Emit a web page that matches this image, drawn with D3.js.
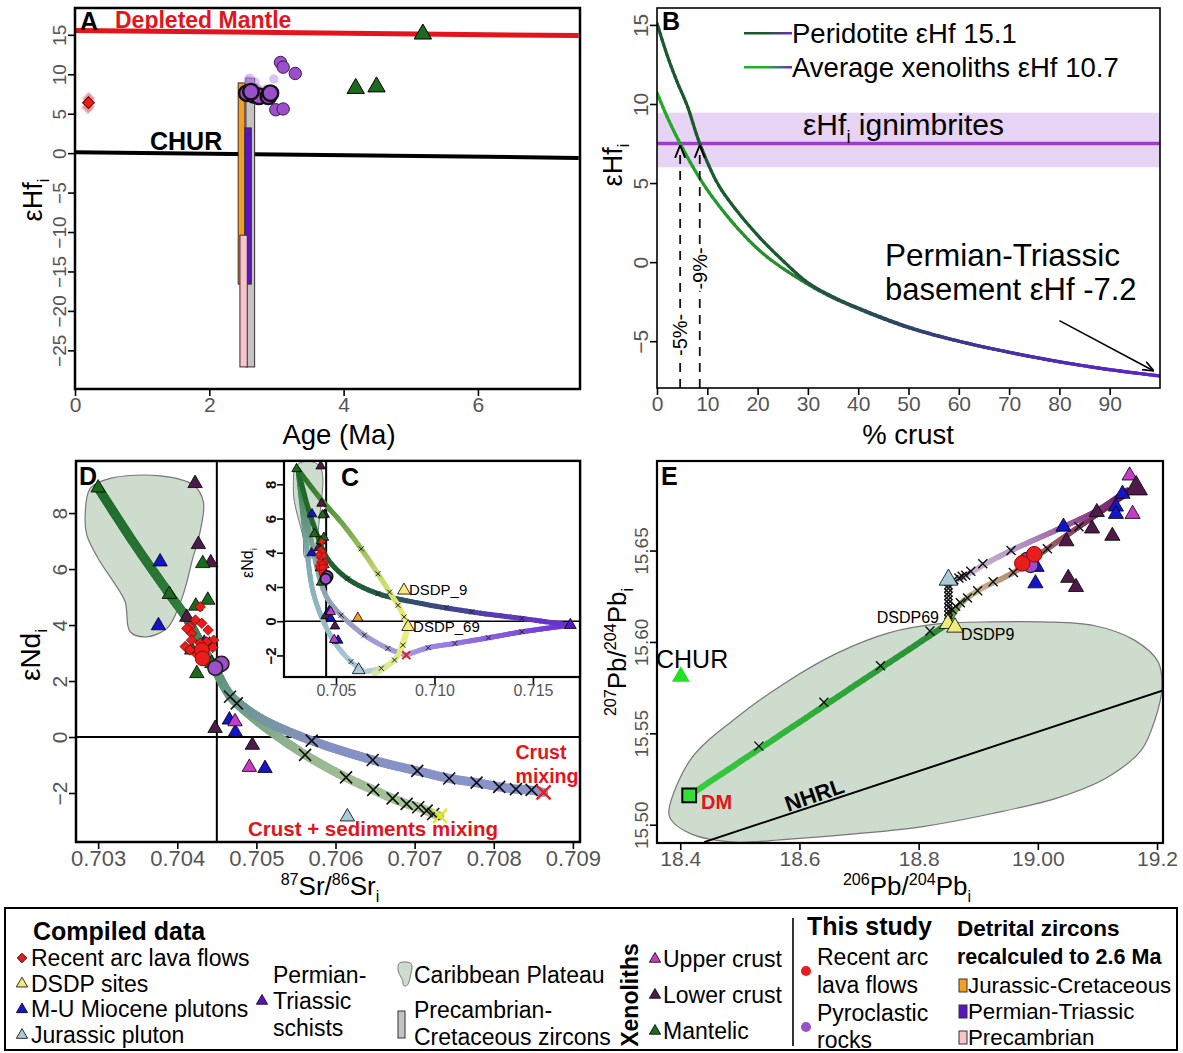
<!DOCTYPE html>
<html>
<head>
<meta charset="utf-8">
<script src="https://cdn.jsdelivr.net/npm/d3@7"></script>
<style>
body { margin: 0; background: #fff; }
text { font-family: "Liberation Sans", Arial, sans-serif; }
</style>
</head>
<body>
<script>
// ---------- Panel A data (age vs eHf) ----------
const ageTicks = [0, 2, 4, 6];
const hfTicksA = [-25, -20, -15, -10, -5, 0, 5, 10, 15];
const depletedMantle = [[0, 15.55], [7.5, 14.9]];
const churA = [[0, 0.1], [7.5, -0.6]];
const barGroups = ["Precambrian-Cretaceous", "Jurassic-Cretaceous", "Permian-Triassic", "Precambrian"];
const barAge0 = [2.545, 2.43, 2.53, 2.456];
const barAge1 = [2.675, 2.53, 2.625, 2.565];
const barHfMin = [-27.1, -16.6, -16.6, -27.1];
const barHfMax = [9.5, 8.9, 3.2, -10.4];
const lavaA = [[0.2, 6.4]];
const lavaAFaint = [[0.2, 7.0], [0.19, 5.7], [0.21, 6.8], [0.2, 5.9]];
const pyroAFaint = [[2.58, 9.2], [2.62, 8.8], [2.7, 8.3], [2.75, 8.0], [2.64, 6.8], [2.7, 6.7],
  [2.8, 7.0], [2.96, 9.4], [2.6, 9.5], [2.68, 9.0], [2.72, 6.9], [2.85, 8.1]];
const pyroA = [[2.56, 7.6], [2.66, 7.4], [2.74, 7.2], [2.88, 7.2], [2.91, 7.6], [2.62, 7.8],
  [3.06, 11.5], [3.1, 10.9], [3.28, 10.1], [2.99, 5.5], [3.1, 5.6]];
const mantelicA = [[5.18, 15.1], [4.18, 8.2], [4.49, 8.4]];

// ---------- Panel B data (% crust vs eHf) ----------
const crustTicks = [0, 10, 20, 30, 40, 50, 60, 70, 80, 90];
const hfTicksB = [-5, 0, 5, 10, 15];
const peridotite = [[0, 15.1], [2, 13.1], [4, 11.4], [6, 9.9], [8.5, 7.5], [12, 5.0], [15, 3.6], [20, 1.7],
  [25, 0.1], [30, -1.3], [35, -2.2], [40, -2.9], [50, -4.1], [60, -5.0], [70, -5.7], [80, -6.3], [90, -6.8], [100, -7.2]];
const xenolith = [[0, 10.7], [2, 9.2], [4.6, 7.5], [8.5, 5.3], [12, 3.7], [17, 1.8], [22, 0.3], [30, -1.4],
  [35, -2.25], [40, -2.95], [50, -4.15], [60, -5.0], [70, -5.7], [80, -6.3], [90, -6.8], [100, -7.2]];
const ignHf = 7.5, ignHfMin = 6.0, ignHfMax = 9.45;
const crustNeeded = [4.6, 8.5];
const crustNeededLabels = ["-5%-", "-9%-"];
const crustLabelHf = [-4.6, -0.4];
const basementArrow = [[80, -3.7], [98.6, -6.85]];

// ---------- Panel D data (Sr vs Nd) ----------
const srTicksD = [0.703, 0.704, 0.705, 0.706, 0.707, 0.708, 0.709];
const ndTicksD = [-2, 0, 2, 4, 6, 8];
const srRef = 0.7045, ndRef = 0;
const caribbeanSrNd = [[0.702836, 7.93], [0.702899, 8.88], [0.703152, 9.24], [0.703783, 9.33], [0.704204, 9.0],
  [0.70433, 8.4], [0.704288, 7.33], [0.704184, 6.26], [0.704099, 5.31], [0.703994, 4.48], [0.703868, 3.88],
  [0.703615, 3.58], [0.703404, 3.76], [0.703341, 4.83], [0.703193, 5.55], [0.703025, 6.26], [0.702857, 7.21]];
const crustCurve = [[0.703, 8.9], [0.70344, 6.98], [0.70391, 5.07], [0.70412, 4.24], [0.70433, 3.17], [0.7045, 2.3],
  [0.70467, 1.5], [0.7049, 0.95], [0.70513, 0.55], [0.7057, -0.13], [0.70647, -0.82], [0.70703, -1.21],
  [0.70744, -1.48], [0.70778, -1.63], [0.70807, -1.78], [0.70828, -1.86], [0.70848, -1.9], [0.70863, -1.98]];
const sedCurve = [[0.703, 8.9], [0.70344, 6.98], [0.70391, 5.07], [0.70412, 4.24], [0.70433, 3.17], [0.7045, 2.3],
  [0.70467, 1.45], [0.70485, 0.95], [0.70513, 0.31], [0.70562, -0.64], [0.70613, -1.44], [0.70648, -1.89],
  [0.70672, -2.19], [0.7069, -2.39], [0.70705, -2.51], [0.70715, -2.63], [0.70724, -2.75], [0.70732, -2.82]];
const trunkMarks = [[0.704667, 1.44], [0.704752, 1.2]];
const crustMarks = [[0.705699, -0.13], [0.70647, -0.82], [0.707033, -1.21], [0.707437, -1.48], [0.707783, -1.63],
  [0.708069, -1.78], [0.70828, -1.86], [0.708478, -1.89]];
const sedMarks = [[0.705615, -0.64], [0.706133, -1.44], [0.706477, -1.89], [0.706722, -2.19], [0.706899, -2.39],
  [0.707046, -2.51], [0.707152, -2.63], [0.707235, -2.75]];
const crustEnd = [[0.70863, -1.98]];
const sedEnd = [[0.70732, -2.82]];
const lavaCompiled = [[0.70429, 4.65], [0.70423, 4.18], [0.70431, 4.06], [0.70439, 3.82], [0.70416, 3.94],
  [0.70418, 3.7], [0.70418, 3.46], [0.7041, 3.23], [0.70416, 3.11], [0.70446, 3.46], [0.70437, 3.4],
  [0.70445, 3.2], [0.70429, 3.35], [0.70412, 3.88], [0.70425, 2.95]];
const lavaStudy = [[0.70431, 3.11], [0.70432, 2.81]];
const pyroStudy = [[0.70452, 2.55], [0.70456, 2.62], [0.70448, 2.47]];
const lowerCrust = [[0.704225, 9.06], [0.704267, 6.88], [0.704423, 6.23], [0.70412, 4.28], [0.704478, 0.31], [0.704949, -0.29]];
const mantelic = [[0.703, 8.9], [0.704322, 6.2], [0.7039, 5.1], [0.704386, 4.89], [0.704234, 4.68], [0.704247, 2.27],
  [0.704406, 3.29], [0.704183, 3.11], [0.704436, 2.63]];
const miocene = [[0.703783, 6.26], [0.703762, 3.98], [0.704659, 0.61], [0.704734, 0.17], [0.705109, -1.12], [0.70434, 3.35]];
const upperCrust = [[0.70473, 0.55], [0.704911, -1.08]];
const jurassic = [[0.70615, -2.85]];

// ---------- Panel C (inset) data ----------
const srTicksC = [0.705, 0.710, 0.715];
const ndTicksC = [-2, 0, 2, 4, 6, 8];
const dsdpSites = [[0.70845, 1.8], [0.70866, -0.33]];
const dsdpNames = ["DSDP_9", "DSDP_69"];
const orangeSite = [[0.70611, 0.19]];
const schist = [[0.7169, -0.23]];
const cCurves = [
  [[0.70308, 8.84], [0.70423, 7.13], [0.70534, 5.68], [0.70628, 4.23], [0.70713, 2.77], [0.70772, 1.7], [0.70815, 0.93], [0.70846, 0.25], [0.70866, -0.33]],
  [[0.70866, -0.33], [0.7084, -1.2], [0.70815, -1.98], [0.70746, -2.75], [0.70695, -3.04]],
  [[0.70308, 8.84], [0.70355, 6.74], [0.70406, 5.0], [0.70457, 3.65], [0.70559, 2.48], [0.70713, 1.61], [0.70934, 1.03], [0.71189, 0.54], [0.71444, 0.16], [0.7169, -0.23]],
  [[0.70308, 8.84], [0.70372, 4.81], [0.70423, 2.29], [0.70457, 1.32], [0.70526, 0.35], [0.70644, -0.81], [0.70764, -1.59], [0.70857, -1.98]],
  [[0.70857, -1.98], [0.70968, -1.55], [0.71104, -1.3], [0.71274, -0.97], [0.71444, -0.62], [0.7169, -0.23]],
  [[0.70308, 8.84], [0.70346, 4.81], [0.7038, 1.9], [0.70423, 0.35], [0.70491, -1.2], [0.70576, -2.36], [0.70644, -2.95]],
  [[0.70644, -2.95], [0.7073, -2.75], [0.70797, -2.27], [0.7084, -1.4], [0.70862, -0.42]]
];
const cMarks = [[0.70628, 4.23], [0.70713, 2.77], [0.70772, 1.7], [0.70815, 0.93], [0.70846, 0.25], [0.7106, 0.8],
  [0.71189, 0.54], [0.71444, 0.16], [0.70968, -1.55], [0.71104, -1.3], [0.71274, -0.97], [0.71444, -0.62],
  [0.70526, 0.35], [0.70644, -0.81], [0.70764, -1.59], [0.70491, -1.2], [0.70576, -2.36], [0.7073, -2.75],
  [0.70797, -2.27], [0.7084, -1.4], [0.70559, 2.48], [0.70713, 1.61]];
const cRedX = [[0.70857, -1.98]];

// ---------- Panel E data (206Pb/204Pb vs 207Pb/204Pb) ----------
const pb6Ticks = [18.4, 18.6, 18.8, 19.0, 19.2];
const pb6Labels = ["18.4", "18.6", "18.8", "19.00", "19.2"];
const pb7Ticks = [15.50, 15.55, 15.60, 15.65];
const caribbeanPb = [[18.381, 15.508], [18.418, 15.536], [18.492, 15.558], [18.578, 15.578], [18.664, 15.594],
  [18.75, 15.605], [18.836, 15.610], [18.922, 15.611], [19.008, 15.611], [19.094, 15.609], [19.162, 15.601],
  [19.202, 15.589], [19.208, 15.574], [19.197, 15.558], [19.174, 15.541], [19.117, 15.526], [19.036, 15.515],
  [18.922, 15.506], [18.807, 15.499], [18.693, 15.495], [18.578, 15.492], [18.492, 15.4905], [18.418, 15.495], [18.384, 15.503]];
const nhrl = [[18.44, 15.4905], [19.21, 15.5735]];
const dmLine = [[18.415, 15.516], [18.849, 15.61]];
const dmMarks = [[18.532, 15.543], [18.641, 15.567], [18.736, 15.587], [18.819, 15.606]];
const upperLine = [[18.852, 15.632], [18.888, 15.638], [18.908, 15.642], [18.955, 15.65], [19.043, 15.663], [19.1, 15.672], [19.15, 15.683]];
const upperMarks = [[18.859, 15.634], [18.8676, 15.635], [18.873, 15.636], [18.879, 15.6365], [18.8875, 15.6387], [18.9076, 15.6428], [18.955, 15.65]];
const lowerLine = [[18.849, 15.61], [18.868, 15.62], [18.899, 15.628], [18.959, 15.638], [19.016, 15.651], [19.069, 15.663], [19.162, 15.684]];
const lowerMarks = [[18.856, 15.6177], [18.862, 15.6195], [18.87, 15.6214], [18.882, 15.624], [18.899, 15.628],
  [18.925, 15.633], [18.959, 15.638], [19.016, 15.651], [19.069, 15.663]];
const stackPb7 = [15.6125, 15.6148, 15.6168, 15.619, 15.6212, 15.6231, 15.6252, 15.6271, 15.6293, 15.631];
const stackPb6 = 18.850;
const upperCrustPb = [[19.154, 15.691], [19.159, 15.67]];
const lowerCrustPb = [[19.099, 15.671], [19.091, 15.662], [19.125, 15.658], [19.048, 15.655], [19.051, 15.635], [19.064, 15.63]];
const lowerCrustPbBig = [[19.165, 15.684]];
const mioPb = [[19.142, 15.681], [19.131, 15.674], [19.131, 15.67], [19.043, 15.663], [18.998, 15.641], [18.996, 15.632]];
const lavaPb = [[18.974, 15.643], [18.994, 15.648]];
const pyroPb = [[18.982, 15.645], [18.988, 15.642]];
const dsdpPb = [[18.849, 15.61], [18.861, 15.608]];
const jurassicPb = [[18.85, 15.634]];
const churPb = [[18.401, 15.581]];
const dmPb = [[18.415, 15.516]];

// ---------- colours ----------
const C = {
  red: "#e3141b", lava: "#e81e1e", pyro: "#9b4fcb", mantelic: "#1c6b1c", lower: "#4d1a4a",
  upper: "#c63cc6", mio: "#1414c8", jur: "#a9cbd9", dsdp: "#f2ec7a", perm: "#5a14c4",
  orange: "#f2a024", pink: "#f9c3cc", gray: "#c3c3c3", blob: "#cddccd"
};
const barColor = { "Precambrian-Cretaceous": C.gray, "Jurassic-Cretaceous": C.orange, "Permian-Triassic": C.perm, "Precambrian": C.pink };

const svg = d3.select("body").append("svg").attr("width", 1183).attr("height", 1053).style("display", "block");
const defs = svg.append("defs");
defs.append("marker").attr("id", "arr").attr("viewBox", "0 0 10 10").attr("refX", 9).attr("refY", 5)
  .attr("markerWidth", 7).attr("markerHeight", 7).attr("orient", "auto")
  .append("path").attr("d", "M0,1 L10,5 L0,9").attr("fill", "none").attr("stroke", "#000").attr("stroke-width", 1.5);

function clipFor(id, b) {
  defs.append("clipPath").attr("id", id).append("rect")
    .attr("x", b.l).attr("y", b.t).attr("width", b.r - b.l).attr("height", b.b - b.t);
  return svg.append("g").attr("clip-path", `url(#${id})`);
}
function frame(b, w = 2) {
  svg.append("rect").attr("x", b.l).attr("y", b.t).attr("width", b.r - b.l).attr("height", b.b - b.t)
    .attr("fill", "none").attr("stroke", "#000").attr("stroke-width", w);
}
function axisB(scale, y, ticks, fmt, fs = 20, col = "#555", dy = 16) {
  const ax = svg.append("g").attr("transform", `translate(0,${y})`)
    .call(d3.axisBottom(scale).tickValues(ticks).tickFormat(fmt).tickSize(7).tickSizeOuter(0));
  ax.select(".domain").remove();
  ax.selectAll("line").attr("stroke", "#000").attr("stroke-width", 1.6);
  ax.selectAll("text").attr("y", dy).attr("dy", "0.35em").attr("fill", col).style("font-size", fs + "px");
}
function axisL(scale, x, ticks, fmt, fs = 20, col = "#555", off = 9, weight = "normal") {
  const ax = svg.append("g").attr("transform", `translate(${x},0)`)
    .call(d3.axisLeft(scale).tickValues(ticks).tickFormat(fmt).tickSize(7).tickSizeOuter(0));
  ax.select(".domain").remove();
  ax.selectAll("line").attr("stroke", "#000").attr("stroke-width", 1.6);
  ax.selectAll("text").attr("transform", "rotate(-90)").attr("x", 0).attr("y", -off).attr("dy", 0)
    .attr("text-anchor", "middle").attr("fill", col).style("font-size", fs + "px").style("font-weight", weight);
}
function rich(sel, parts, fs) {
  let shift = 0;
  parts.forEach(([t, k]) => {
    const target = k === "sup" ? -0.4 * fs : k === "sub" ? 0.25 * fs : 0;
    sel.append("tspan").attr("dy", target - shift).style("font-size", (k ? 0.62 * fs : fs) + "px").text(t);
    shift = target;
  });
  return sel;
}
function label(x, y, parts, fs, opts = {}) {
  const t = svg.append("text").attr("x", x).attr("y", y).attr("fill", opts.fill || "#000")
    .attr("text-anchor", opts.anchor || "start").style("font-weight", opts.weight || "normal");
  if (opts.rotate !== undefined) t.attr("transform", `rotate(${opts.rotate},${x},${y})`);
  if (typeof parts === "string") t.style("font-size", fs + "px").text(parts);
  else rich(t, parts, fs);
  return t;
}
const crossPath = s => `M${-s},${-s}L${s},${s}M${-s},${s}L${s},${-s}`;
function marks(g, data, x, y, shape, fill, size, stroke = "#000", sw = 0.8, op = 1) {
  const gen = shape === "tri" ? d3.symbol(d3.symbolTriangle, size)
    : shape === "dia" || shape === "sq" ? d3.symbol(d3.symbolSquare, size)
    : d3.symbol(d3.symbolCircle, size);
  g.selectAll(null).data(data).join("path")
    .attr("transform", d => `translate(${x(d[0])},${y(d[1])})${shape === "dia" ? " rotate(45)" : ""}`)
    .attr("d", gen).attr("fill", fill).attr("stroke", stroke).attr("stroke-width", sw).attr("opacity", op);
}
function crosses(g, data, x, y, s, col = "#111", sw = 1.4) {
  g.selectAll(null).data(data).join("path")
    .attr("transform", d => `translate(${x(d[0])},${y(d[1])})`)
    .attr("d", crossPath(s)).attr("fill", "none").attr("stroke", col).attr("stroke-width", sw);
}
// thick line coloured along its length
function gradPath(g, pts, colorAt, width, n = 90, curve = d3.curveCatmullRom.alpha(0.5)) {
  const tmp = g.append("path").attr("d", d3.line().curve(curve)(pts)).attr("fill", "none");
  const node = tmp.node(), L = node.getTotalLength();
  const s = d3.range(n + 1).map(i => node.getPointAtLength(L * i / n));
  tmp.remove();
  for (let i = 0; i < n; i++) {
    g.append("line").attr("x1", s[i].x).attr("y1", s[i].y).attr("x2", s[i + 1].x).attr("y2", s[i + 1].y)
      .attr("stroke", colorAt((i + 0.5) / n)).attr("stroke-width", width).attr("stroke-linecap", "round");
  }
}
const ramp = (dom, rng) => d3.scaleLinear().domain(dom).range(rng).interpolate(d3.interpolateRgb).clamp(true);

// =============== PANEL A ===============
const bA = { l: 75, r: 580, t: 8, b: 389 };
const xA = d3.scaleLinear().domain([0, 7.52]).range([bA.l, bA.r]);
const yA = d3.scaleLinear().domain([-29.9, 18.4]).range([bA.b, bA.t]);
const gA = clipFor("clipA", bA);
const lineA = d3.line().x(d => xA(d[0])).y(d => yA(d[1]));
gA.append("path").attr("d", lineA(depletedMantle)).attr("stroke", C.red).attr("stroke-width", 5).attr("fill", "none");
gA.append("path").attr("d", lineA(churA)).attr("stroke", "#000").attr("stroke-width", 4).attr("fill", "none");
barGroups.forEach((grp, i) => {
  gA.append("rect").attr("x", xA(barAge0[i])).attr("width", xA(barAge1[i]) - xA(barAge0[i]))
    .attr("y", yA(barHfMax[i])).attr("height", yA(barHfMin[i]) - yA(barHfMax[i]))
    .attr("fill", barColor[grp]).attr("stroke", "#3a2a2a").attr("stroke-width", 1);
});
marks(gA, lavaAFaint, xA, yA, "dia", "#e05050", 70, "#a04040", 0.5, 0.35);
marks(gA, lavaA, xA, yA, "dia", C.lava, 70, "#600", 1);
marks(gA, pyroAFaint, xA, yA, "circ", "#b27ade", 70, "none", 0, 0.45);
marks(gA, pyroA.slice(0, 6), xA, yA, "circ", C.pyro, 190, "#111", 2.4);
marks(gA, pyroA.slice(6), xA, yA, "circ", C.pyro, 120, "#3a1a4a", 1);
marks(gA, mantelicA, xA, yA, "tri", C.mantelic, 130, "#000", 1);
frame(bA, 2.5);
axisB(xA, bA.b, ageTicks, d3.format("d"), 21);
axisL(yA, bA.l, hfTicksA, d3.format("d"), 19);
label(80, 30, "A", 25, { weight: "bold" });
label(115, 28, "Depleted Mantle", 23, { weight: "bold", fill: C.red });
label(150, 150, "CHUR", 25, { weight: "bold" });
label(42, 200, [["εHf", null], ["i", "sub"]], 27, { rotate: -90, anchor: "middle" });
label(339, 444, "Age (Ma)", 27.5, { anchor: "middle" });

// =============== PANEL B ===============
const bB = { l: 657, r: 1160, t: 8, b: 388 };
const xB = d3.scaleLinear().domain([0, 100]).range([bB.l, bB.r]);
const yB = d3.scaleLinear().domain([-7.96, 16.07]).range([bB.b, bB.t]);
const gB = clipFor("clipB", bB);
gB.append("rect").attr("x", bB.l).attr("width", bB.r - bB.l).attr("y", yB(ignHfMax)).attr("height", yB(ignHfMin) - yB(ignHfMax))
  .attr("fill", "#e7d3f3");
gB.append("line").attr("x1", bB.l).attr("x2", bB.r).attr("y1", yB(ignHf)).attr("y2", yB(ignHf))
  .attr("stroke", "#9a3ec9").attr("stroke-width", 3.5);
const ptsB = arr => arr.map(d => [xB(d[0]), yB(d[1])]);
gradPath(gB, ptsB(xenolith), ramp([0, 0.35, 0.55, 0.75, 1], ["#22ad2a", "#2a8a30", "#2a4a55", "#4a2fa8", "#5a24cc"]), 3.2, 120);
gradPath(gB, ptsB(peridotite), ramp([0, 0.4, 0.58, 0.78, 1], ["#1b5a2c", "#1d5a32", "#2a4a58", "#4a2fa8", "#5a24cc"]), 3.2, 120);
crustNeeded.forEach(c => {
  gB.append("line").attr("x1", xB(c)).attr("x2", xB(c)).attr("y1", yB(-7.96)).attr("y2", yB(ignHf) + 3)
    .attr("stroke", "#111").attr("stroke-width", 1.8).attr("stroke-dasharray", "9,7").attr("marker-end", "url(#arr)");
});
gB.append("line").attr("x1", xB(basementArrow[0][0])).attr("y1", yB(basementArrow[0][1]))
  .attr("x2", xB(basementArrow[1][0])).attr("y2", yB(basementArrow[1][1]))
  .attr("stroke", "#000").attr("stroke-width", 1.6).attr("marker-end", "url(#arr)");
crustNeeded.forEach((c, i) => {
  label(xB(c) + 7, yB(crustLabelHf[i]), crustNeededLabels[i], 20, { rotate: -90, anchor: "middle" })
    .attr("stroke", "#fff").attr("stroke-width", 5).attr("paint-order", "stroke");
});
frame(bB, 1.6);
axisB(xB, bB.b, crustTicks, d3.format("d"), 21);
axisL(yB, bB.l, hfTicksB, d3.format("d"), 21);
label(662, 30, "B", 25, { weight: "bold" });
const legGrad = [["gPer", "#1b5a2c"], ["gXen", "#22ad2a"]];
legGrad.forEach(([id, c0]) => {
  const lg = defs.append("linearGradient").attr("id", id);
  lg.append("stop").attr("offset", "0%").attr("stop-color", c0);
  lg.append("stop").attr("offset", "45%").attr("stop-color", c0);
  lg.append("stop").attr("offset", "100%").attr("stop-color", "#6a2ad0");
});
svg.append("rect").attr("x", 744).attr("y", 32).attr("width", 48).attr("height", 2.5).attr("fill", "url(#gPer)");
svg.append("rect").attr("x", 744).attr("y", 66).attr("width", 48).attr("height", 2.5).attr("fill", "url(#gXen)");
label(792, 43, "Peridotite εHf 15.1", 27.5);
label(792, 77, "Average xenoliths εHf 10.7", 27.5);
label(803, 135, [["εHf", null], ["i", "sub"], [" ignimbrites", null]], 30);
label(885, 266, "Permian-Triassic", 31.5);
label(885, 300, "basement εHf -7.2", 31);
label(622, 165, [["εHf", null], ["i", "sub"]], 27, { rotate: -90, anchor: "middle" });
label(908, 444, "% crust", 27.5, { anchor: "middle" });

// =============== PANEL D ===============
const bD = { l: 76, r: 580, t: 461, b: 842 };
const xD = d3.scaleLinear().domain([0.70272, 0.70909]).range([bD.l, bD.r]);
const yD = d3.scaleLinear().domain([-3.75, 9.86]).range([bD.b, bD.t]);
const gD = clipFor("clipD", bD);
gD.append("path").attr("d", d3.line().curve(d3.curveCatmullRomClosed)(caribbeanSrNd.map(d => [xD(d[0]), yD(d[1])])))
  .attr("fill", C.blob).attr("stroke", "#777").attr("stroke-width", 1.2);
gD.append("line").attr("x1", xD(srRef)).attr("x2", xD(srRef)).attr("y1", bD.t).attr("y2", bD.b).attr("stroke", "#000").attr("stroke-width", 2);
gD.append("line").attr("x1", bD.l).attr("x2", bD.r).attr("y1", yD(ndRef)).attr("y2", yD(ndRef)).attr("stroke", "#000").attr("stroke-width", 2);
const ptsD = arr => arr.map(d => [xD(d[0]), yD(d[1])]);
gradPath(gD, ptsD(sedCurve), ramp([0, 0.25, 0.5, 0.7, 1], ["#1e6b2a", "#2e7a3a", "#6a9a80", "#98b890", "#a9c69c"]), 9, 120);
gradPath(gD, ptsD(crustCurve), ramp([0, 0.25, 0.43, 0.6, 1], ["#1e6b2a", "#2e7a3a", "#6a9a88", "#8590c2", "#8a94cc"]), 9, 140);
crosses(gD, trunkMarks.concat(crustMarks, sedMarks), xD, yD, 6, "#111", 1.6);
crosses(gD, crustEnd, xD, yD, 7, "#e02020", 2.4);
crosses(gD, sedEnd, xD, yD, 7, "#e8e820", 2.4);
marks(gD, lowerCrust, xD, yD, "tri", C.lower, 90);
marks(gD, mantelic, xD, yD, "tri", C.mantelic, 90);
marks(gD, miocene, xD, yD, "tri", C.mio, 90);
marks(gD, upperCrust, xD, yD, "tri", C.upper, 90);
marks(gD, jurassic, xD, yD, "tri", C.jur, 90);
marks(gD, lavaCompiled, xD, yD, "dia", C.lava, 55, "#700", 0.7);
marks(gD, lavaStudy, xD, yD, "circ", C.lava, 170, "#900", 1);
marks(gD, pyroStudy, xD, yD, "circ", C.pyro, 170, "#222", 1.6);
frame(bD, 2.5);
axisB(xD, bD.b, srTicksD, d3.format(".3f"), 22);
axisL(yD, bD.l, ndTicksD, d3.format("d"), 21);
label(79, 485, "D", 25, { weight: "bold" });
label(40, 655, [["εNd", null], ["i", "sub"]], 28, { rotate: -90, anchor: "middle" });
label(330, 895, [["87", "sup"], ["Sr/", null], ["86", "sup"], ["Sr", null], ["i", "sub"]], 26, { anchor: "middle" });
label(541, 759, "Crust", 19.5, { weight: "bold", fill: C.red, anchor: "middle" });
label(547, 783, "mixing", 19.5, { weight: "bold", fill: C.red, anchor: "middle" });
label(373, 836, "Crust + sediments mixing", 20.5, { weight: "bold", fill: C.red, anchor: "middle" });

// =============== PANEL C (inset) ===============
const bC = { l: 284, r: 580, t: 461, b: 677 };
const xC = d3.scaleLinear().domain([0.70236, 0.71739]).range([bC.l, bC.r]);
const yC = d3.scaleLinear().domain([-3.26, 9.36]).range([bC.b, bC.t]);
svg.append("rect").attr("x", bC.l).attr("y", bC.t).attr("width", bC.r - bC.l).attr("height", bC.b - bC.t).attr("fill", "#fff");
const gC = clipFor("clipC", bC);
gC.append("path").attr("d", d3.line().curve(d3.curveCatmullRomClosed)(caribbeanSrNd.map(d => [xC(d[0]), yC(d[1])])))
  .attr("fill", C.blob).attr("stroke", "#777").attr("stroke-width", 1);
gC.append("line").attr("x1", xC(srRef)).attr("x2", xC(srRef)).attr("y1", bC.t).attr("y2", bC.b).attr("stroke", "#000").attr("stroke-width", 2);
gC.append("line").attr("x1", bC.l).attr("x2", bC.r).attr("y1", yC(ndRef)).attr("y2", yC(ndRef)).attr("stroke", "#000").attr("stroke-width", 1.6);
const ptsC = arr => arr.map(d => [xC(d[0]), yC(d[1])]);
const cColors = [
  ramp([0, 0.3, 0.7, 1], ["#1e6b2a", "#5a9a40", "#c8d870", "#eeee70"]),
  ramp([0, 1], ["#eeee70", "#d8e8a0"]),
  ramp([0, 0.35, 0.55, 0.8, 1], ["#1e6b2a", "#1e6030", "#30506a", "#5a3ab8", "#6a30d0"]),
  ramp([0, 0.4, 1], ["#2e7a3a", "#8aa8a0", "#a898e0"]),
  ramp([0, 1], ["#a898e8", "#6a30d0"]),
  ramp([0, 0.4, 1], ["#2e7a3a", "#80aab0", "#a9cbd9"]),
  ramp([0, 0.5, 1], ["#a9cbd9", "#d8e8a0", "#eeee70"])
];
[5, 6, 3, 4, 2, 0, 1].forEach(i => gradPath(gC, ptsC(cCurves[i]), cColors[i], 5, 70));
crosses(gC, cMarks, xC, yC, 2.5, "#222", 1);
crosses(gC, cRedX, xC, yC, 4, "#e02020", 2);
marks(gC, lowerCrust, xC, yC, "tri", C.lower, 40);
marks(gC, mantelic, xC, yC, "tri", C.mantelic, 40);
marks(gC, miocene, xC, yC, "tri", C.mio, 40);
marks(gC, upperCrust, xC, yC, "tri", C.upper, 40);
marks(gC, lavaCompiled, xC, yC, "dia", C.lava, 25, "#700", 0.5);
marks(gC, lavaStudy, xC, yC, "circ", C.lava, 40, "#900", 0.6);
marks(gC, pyroStudy, xC, yC, "circ", C.pyro, 90, "#111", 1.8);
marks(gC, jurassic, xC, yC, "tri", C.jur, 70);
marks(gC, dsdpSites, xC, yC, "tri", C.dsdp, 70);
marks(gC, orangeSite, xC, yC, "tri", C.orange, 45);
marks(gC, schist, xC, yC, "tri", C.perm, 60);
dsdpSites.forEach((d, i) => label(xC(d[0]) + 5, yC(d[1]) + 5, dsdpNames[i], 15));
frame(bC, 2.2);
axisB(xC, bC.b, srTicksC, d3.format(".3f"), 16, "#555", 13);
axisL(yC, bC.l, ndTicksC, d3.format("d"), 15, "#111", 8, "bold");
label(341, 486, "C", 25, { weight: "bold" });
label(253, 563, [["εNd", null], ["i", "sub"]], 16, { rotate: -90, anchor: "middle" });

// =============== PANEL E ===============
const bE = { l: 657, r: 1163, t: 461, b: 843 };
const xE = d3.scaleLinear().domain([18.361, 19.21]).range([bE.l, bE.r]);
const yE = d3.scaleLinear().domain([15.49, 15.699]).range([bE.b, bE.t]);
const gE = clipFor("clipE", bE);
const ptsE = arr => arr.map(d => [xE(d[0]), yE(d[1])]);
gE.append("path").attr("d", d3.line().curve(d3.curveCatmullRomClosed)(ptsE(caribbeanPb)))
  .attr("fill", C.blob).attr("stroke", "#777").attr("stroke-width", 1.2);
gE.append("path").attr("d", d3.line()(ptsE(nhrl))).attr("stroke", "#000").attr("stroke-width", 2).attr("fill", "none");
gradPath(gE, ptsE(dmLine), ramp([0, 1], ["#37cf3f", "#2a8a36"]), 6, 40, d3.curveLinear);
gradPath(gE, ptsE(lowerLine), ramp([0, 0.2, 0.5, 0.8, 1], ["#3a8a3a", "#c8b48c", "#a0706a", "#7a2a5a", "#6a1a4a"]), 5.5, 80);
gradPath(gE, ptsE(upperLine), ramp([0, 0.4, 0.8, 1], ["#d4c6dc", "#b596c6", "#8a3f88", "#6a1a5a"]), 5.5, 80);
crosses(gE, dmMarks.concat(upperMarks, lowerMarks), xE, yE, 4.5, "#111", 1.4);
crosses(gE, stackPb7.map(v => [stackPb6, v]), xE, yE, 4, "#111", 1.4);
marks(gE, upperCrustPb, xE, yE, "tri", C.upper, 100);
marks(gE, lowerCrustPb, xE, yE, "tri", C.lower, 100);
marks(gE, lowerCrustPbBig, xE, yE, "tri", C.lower, 220);
marks(gE, mioPb, xE, yE, "tri", C.mio, 100);
marks(gE, pyroPb, xE, yE, "circ", C.pyro, 170, "#222", 1.2);
marks(gE, lavaPb, xE, yE, "circ", C.lava, 190, "#900", 1);
marks(gE, jurassicPb, xE, yE, "tri", C.jur, 150);
marks(gE, dsdpPb, xE, yE, "tri", C.dsdp, 120);
marks(gE, churPb, xE, yE, "tri", "#22e022", 140, "none", 0);
marks(gE, dmPb, xE, yE, "sq", "#33dd3a", 190, "#000", 2);
frame(bE, 2.2);
axisB(xE, bE.b, pb6Ticks, (d, i) => pb6Labels[i], 21);
axisL(yE, bE.l, pb7Ticks, d3.format(".2f"), 19);
label(661, 485, "E", 25, { weight: "bold" });
label(656, 668, "CHUR", 25);
label(939, 623, "DSDP69", 16, { anchor: "end" });
label(961, 640, "DSDP9", 16);
label(701, 809, "DM", 20, { weight: "bold", fill: C.red });
label(788, 812, "NHRL", 22, { weight: "bold", rotate: -19 });
label(626, 652, [["207", "sup"], ["Pb/", null], ["204", "sup"], ["Pb", null], ["i", "sub"]], 26, { rotate: -90, anchor: "middle" });
label(907, 895, [["206", "sup"], ["Pb/", null], ["204", "sup"], ["Pb", null], ["i", "sub"]], 26, { anchor: "middle" });

// =============== LEGEND ===============
svg.append("rect").attr("x", 5).attr("y", 908).attr("width", 1172).attr("height", 142)
  .attr("fill", "#fff").attr("stroke", "#000").attr("stroke-width", 2);
const lg = svg.append("g");
const id = d => d;
const leg = (x, y, shape, fill, size, stroke = "#000", sw = 0.8) =>
  marks(lg, [[x, y]], id, id, shape, fill, size, stroke, sw);
label(33, 940, "Compiled data", 25, { weight: "bold" });
const compiled = [["Recent arc lava flows", "dia", C.lava], ["DSDP sites", "tri", C.dsdp], ["M-U Miocene plutons", "tri", C.mio], ["Jurassic pluton", "tri", C.jur]];
compiled.forEach(([t, s, c], i) => {
  const y = 958 + i * 25.7;
  leg(22, y, s, c, s === "dia" ? 45 : 55);
  label(31, y + 8, t, 23);
});
label(273, 983, "Permian-", 23);
leg(262, 1001, "tri", C.perm, 55);
label(273, 1009, "Triassic", 23);
label(273, 1036, "schists", 23);
const iconX = d3.scaleLinear().domain(d3.extent(caribbeanSrNd, d => d[0])).range([398, 412]);
const iconY = d3.scaleLinear().domain(d3.extent(caribbeanSrNd, d => d[1])).range([986, 962]);
lg.append("path").attr("d", d3.line().curve(d3.curveCatmullRomClosed)(caribbeanSrNd.map(d => [iconX(d[0]), iconY(d[1])])))
  .attr("fill", C.blob).attr("stroke", "#777").attr("stroke-width", 1);
label(414, 983, "Caribbean Plateau", 23);
lg.append("rect").attr("x", 398).attr("y", 1011).attr("width", 7).attr("height", 27).attr("fill", C.gray).attr("stroke", "#333").attr("stroke-width", 1);
label(414, 1018, "Precambrian-", 23);
label(414, 1045, "Cretaceous zircons", 23);
label(638, 995, "Xenoliths", 23, { weight: "bold", rotate: -90, anchor: "middle" });
[["Upper crust", C.upper], ["Lower crust", C.lower], ["Mantelic", C.mantelic]].forEach(([t, c], i) => {
  const y = 959 + i * 36;
  leg(655, y, "tri", c, 55);
  label(663, y + 8, t, 23);
});
lg.append("line").attr("x1", 793).attr("x2", 793).attr("y1", 918).attr("y2", 1046).attr("stroke", "#000").attr("stroke-width", 1.6);
label(807, 935, "This study", 25, { weight: "bold" });
leg(806, 971, "circ", C.lava, 80, "none", 0);
label(817, 965, "Recent arc", 23);
label(817, 993, "lava flows", 23);
leg(806, 1027, "circ", C.pyro, 80, "none", 0);
label(817, 1021, "Pyroclastic", 23);
label(817, 1048, "rocks", 23);
label(957, 936, "Detrital zircons", 22.5, { weight: "bold" });
label(957, 964, "recalculed to 2.6 Ma", 21.5, { weight: "bold" });
[["Jurassic-Cretaceous", C.orange], ["Permian-Triassic", C.perm], ["Precambrian", C.pink]].forEach(([t, c], i) => {
  const y = 985 + i * 26;
  lg.append("rect").attr("x", 959).attr("y", y - 6).attr("width", 8).attr("height", 13).attr("fill", c).attr("stroke", "#333").attr("stroke-width", 1);
  label(968, y + 8, t, 22.3);
});
</script>
</body>
</html>
